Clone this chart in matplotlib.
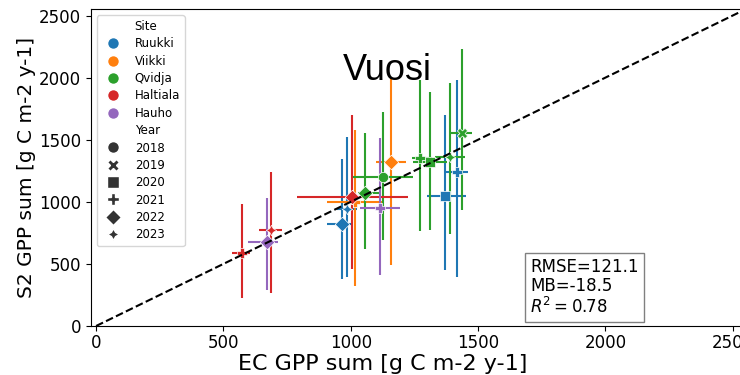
import matplotlib
matplotlib.use('Agg')
from matplotlib import pyplot as plt
from matplotlib.lines import Line2D

plt.rcParams['font.family'] = ['DejaVu Sans']

# 站点和年份
sites = ['Ruukki', 'Viikki', 'Qvidja', 'Haltiala', 'Hauho']
site_colors = ['#1f77b4', '#ff7f0e', '#2ca02c', '#d62728', '#9467bd']
years = [2018, 2019, 2020, 2021, 2022, 2023]
year_markers = ['o', 'X', 's', 'P', 'D', (4, 1, 0)]

# 每个点: 站点, 年份, EC GPP, S2 GPP 以及误差范围
site = ['Ruukki', 'Ruukki', 'Ruukki', 'Ruukki',
        'Viikki', 'Viikki',
        'Qvidja', 'Qvidja', 'Qvidja', 'Qvidja', 'Qvidja', 'Qvidja',
        'Haltiala', 'Haltiala', 'Haltiala',
        'Hauho', 'Hauho']
year = [2020, 2021, 2022, 2023,
        2021, 2022,
        2018, 2019, 2020, 2021, 2022, 2023,
        2022, 2021, 2023,
        2022, 2021]
ec_gpp = [1370, 1416, 964, 984,
          1017, 1157,
          1128, 1436, 1311, 1272, 1056, 1390,
          1004, 572, 686,
          670, 1115]
s2_gpp = [1048, 1244, 822, 944,
          997, 1317,
          1199, 1554, 1317, 1352, 1070, 1360,
          1038, 591, 774,
          680, 949]
ec_low = [1298, 1370, 905, 945,
          906, 1099,
          1008, 1393, 1245, 1239, 1029, 1331,
          788, 533, 641,
          598, 1037]
ec_high = [1453, 1461, 1005, 1025,
           1121, 1217,
           1246, 1475, 1378, 1318, 1115, 1449,
           1226, 605, 729,
           716, 1194]
s2_low = [452, 398, 381, 395,
          322, 492,
          694, 930, 774, 761, 621, 742,
          457, 223, 264,
          290, 411]
s2_high = [1702, 1978, 1347, 1524,
           1580, 2000,
           1720, 2234, 1882, 1984, 1556, 1960,
           1702, 981, 1244,
           1032, 1516]

stats_text = 'RMSE=121.1\nMB=-18.5\n$R^2 = 0.78$'

if __name__ == '__main__':
    fig = plt.figure(figsize=(7.4, 3.75), dpi=100)
    ax = fig.add_axes([91 / 740, 49 / 375, 654.5 / 740, 316.7 / 375])

    color_of = dict(zip(sites, site_colors))
    marker_of = dict(zip(years, year_markers))

    # 误差线
    for i in range(len(site)):
        c = color_of[site[i]]
        ax.errorbar(ec_gpp[i], s2_gpp[i],
                    xerr=[[ec_gpp[i] - ec_low[i]], [ec_high[i] - ec_gpp[i]]],
                    yerr=[[s2_gpp[i] - s2_low[i]], [s2_high[i] - s2_gpp[i]]],
                    fmt='none', ecolor=c, elinewidth=1.5, zorder=2)
    # 散点
    for i in range(len(site)):
        ax.scatter(ec_gpp[i], s2_gpp[i], s=55, color=color_of[site[i]],
                   marker=marker_of[year[i]], edgecolor='w', linewidth=0.5, zorder=3)

    # 1:1 线
    ax.plot([0, 2550], [0, 2550], 'k--', lw=1.5, zorder=4)

    ax.set_xlim(-20, 2550)
    ax.set_ylim(0, 2550)
    ax.set_xticks([0, 500, 1000, 1500, 2000, 2500])
    ax.set_yticks([0, 500, 1000, 1500, 2000, 2500])
    ax.tick_params(labelsize=12)
    ax.tick_params(axis='x', pad=2)
    ax.set_xlabel('EC GPP sum [g C m-2 y-1]', fontsize=16)
    ax.xaxis.set_label_coords(0.445, -0.088, transform=ax.transAxes)
    ax.xaxis.label.set_va('top')
    ax.set_ylabel('S2 GPP sum [g C m-2 y-1]', fontsize=14.5, labelpad=2)
    ax.set_title('Yearly GPP sum [g C m-2 y-1]', fontsize=13, x=0.406, pad=12)

    # 图例
    blank = Line2D([], [], linestyle='none')
    handles = [blank]
    labels = ['Site']
    for s, c in zip(sites, site_colors):
        handles.append(Line2D([], [], linestyle='none', marker='o', color=c,
                              markeredgecolor='w', markersize=8.5))
        labels.append(s)
    handles.append(blank)
    labels.append('Year')
    for y, m in zip(years, year_markers):
        handles.append(Line2D([], [], linestyle='none', marker=m, color='#333333',
                              markeredgecolor='w', markersize=8.5))
        labels.append(str(y))
    ax.legend(handles, labels, loc='upper left', fontsize=8.5, labelspacing=0.37)

    ax.text(0.671, 0.028, stats_text, transform=ax.transAxes, fontsize=12,
            ha='left', va='bottom', linespacing=1.1,
            bbox=dict(boxstyle='square,pad=0.3', fc='w', ec='gray'))

    fig.text(343 / 740, 1 - 80 / 375, 'Vuosi', fontsize=26,
             family='Liberation Sans', va='baseline')

    fig.savefig('out.png', dpi=100)
